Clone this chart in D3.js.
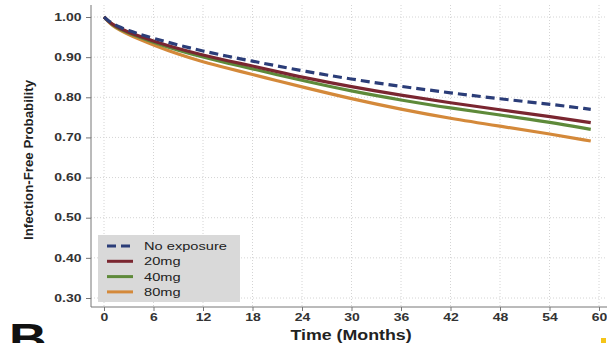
<!DOCTYPE html>
<html><head><meta charset="utf-8">
<script src="https://cdn.jsdelivr.net/npm/d3@7"></script>
<style>body{margin:0;background:#fff}svg{display:block}text{font-family:"Liberation Sans",Arial,sans-serif}</style>
</head><body><svg id="c" width="607" height="343"></svg>
<script>
const months = [0,0.5,1,2,3,4,6,9,12,15,18,21,24,30,36,42,48,54,59];
const noExposure = [1.0,0.991,0.984,0.974,0.966,0.959,0.947,0.930,0.915,0.902,0.890,0.878,0.866,0.845,0.827,0.811,0.796,0.783,0.770];
const mg20 = [1.0,0.990,0.982,0.971,0.962,0.954,0.940,0.921,0.905,0.891,0.878,0.864,0.850,0.826,0.805,0.786,0.769,0.752,0.737];
const mg40 = [1.0,0.990,0.981,0.969,0.960,0.952,0.937,0.917,0.900,0.885,0.871,0.856,0.842,0.815,0.793,0.773,0.756,0.738,0.720];
const mg80 = [1.0,0.989,0.979,0.966,0.956,0.947,0.930,0.907,0.888,0.872,0.857,0.841,0.826,0.796,0.770,0.747,0.728,0.709,0.691];
const seriesNames = ["No exposure","20mg","40mg","80mg"];
const xTicks = [0,6,12,18,24,30,36,42,48,54,60];
const yTicks = [0.30,0.40,0.50,0.60,0.70,0.80,0.90,1.00];

const colors = ["#2b3d78","#7a2630","#5e8a3a","#d4893a"];
const seriesVals = [noExposure, mg20, mg40, mg80];
const SX = 1.4; // horizontal stretch of the reference's lettering

const svg = d3.select("#c");
const x = d3.scaleLinear().domain([0,60]).range([104,599]);
const y = d3.scaleLinear().domain([0.3,1.0]).range([298,17]);
const axisX0 = 91, axisY0 = 307, plotTop = 5;

// grid
svg.append("g").selectAll("line").data(xTicks).join("line")
  .attr("x1",d=>x(d)).attr("x2",d=>x(d)).attr("y1",plotTop).attr("y2",axisY0)
  .attr("stroke","#d4d4d4").attr("stroke-width",1).attr("stroke-dasharray","1,2");
svg.append("g").selectAll("line").data(yTicks).join("line")
  .attr("x1",axisX0).attr("x2",607).attr("y1",d=>y(d)).attr("y2",d=>y(d))
  .attr("stroke","#d4d4d4").attr("stroke-width",1).attr("stroke-dasharray","1,2");

// axes
const yAxis = svg.append("g").attr("transform",`translate(${axisX0},0)`)
  .call(d3.axisLeft(y).tickValues(yTicks).tickFormat(d3.format(".2f")).tickSize(5).tickPadding(4));
yAxis.select(".domain").attr("d",`M0,${plotTop}V${axisY0}`);
yAxis.selectAll(".tick text").attr("x",-9.5/SX).attr("transform",`scale(${SX},1)`);
const xAxis = svg.append("g").attr("transform",`translate(0,${axisY0})`)
  .call(d3.axisBottom(x).tickValues(xTicks).tickFormat(d3.format("d")).tickSize(4).tickPadding(3));
xAxis.select(".domain").attr("d",`M${axisX0},0H607`);
xAxis.selectAll(".tick text").attr("transform",`scale(${SX},1)`);
svg.selectAll(".domain").attr("stroke","#777").attr("stroke-width",1);
svg.selectAll(".tick line").attr("stroke","#777");
svg.selectAll(".tick text").attr("font-size",10).attr("fill","#333").attr("font-weight","bold")
  .attr("font-family","'Liberation Sans',Arial,sans-serif");

// lines
const line = d3.line().x((d,i)=>x(months[i])).y(d=>y(d)).curve(d3.curveBasis);
[3,2,1,0].forEach(k=>{
  svg.append("path").datum(seriesVals[k]).attr("d",line).attr("fill","none")
    .attr("stroke",colors[k]).attr("stroke-width",3.2)
    .attr("stroke-dasharray",k===0?"9,5":null);
});

// legend
const lg = svg.append("g");
lg.append("rect").attr("x",98).attr("y",235).attr("width",142).attr("height",67).attr("fill","#d9d9d9");
seriesNames.forEach((n,i)=>{
  const yy = 246 + i*15.3;
  lg.append("line").attr("x1",107).attr("x2",133).attr("y1",yy).attr("y2",yy)
    .attr("stroke",colors[i]).attr("stroke-width",3).attr("stroke-dasharray",i===0?"9,5":null);
  lg.append("text").attr("transform",`translate(144,${yy+4}) scale(1.33,1)`)
    .attr("font-size",11).attr("fill","#222").text(n);
});

// titles
svg.append("text").attr("transform","translate(33,160) rotate(-90)").attr("text-anchor","middle")
  .attr("font-size",13).attr("font-weight","bold").attr("fill","#222")
  .attr("textLength",160).attr("lengthAdjust","spacingAndGlyphs").text("Infection-Free Probability");
svg.append("text").attr("transform","translate(351,340) scale(1.27,1)").attr("text-anchor","middle")
  .attr("font-size",14).attr("font-weight","bold").attr("fill","#222").text("Time (Months)");
svg.append("text").attr("transform","translate(9,353) scale(1.25,1)").attr("font-size",42)
  .attr("font-weight","bold").attr("fill","#111").text("B");
svg.append("rect").attr("x",601).attr("y",338).attr("width",5).attr("height",5).attr("fill","#f5c518");
</script></body></html>
